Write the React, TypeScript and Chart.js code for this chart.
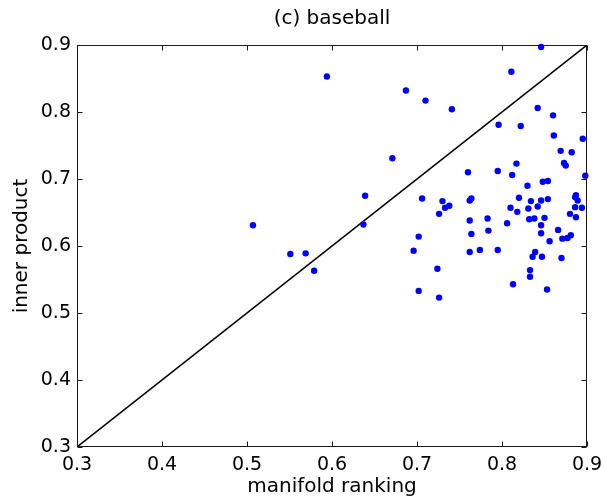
import React, { useEffect, useRef } from 'react';
import { Chart, registerables } from 'chart.js';

Chart.register(...registerables);

const manifoldRanking = [
  0.594, 0.687, 0.710, 0.671, 0.639, 0.706, 0.726, 0.507, 0.637, 0.702,
  0.551, 0.569, 0.696, 0.579, 0.724, 0.702, 0.726, 0.846, 0.811, 0.741,
  0.842, 0.860, 0.796, 0.822, 0.861, 0.895, 0.869, 0.882, 0.817, 0.873,
  0.875, 0.760, 0.795, 0.812, 0.898, 0.830, 0.848, 0.854, 0.887, 0.886,
  0.889, 0.820, 0.834, 0.846, 0.854, 0.730, 0.762, 0.764, 0.810, 0.831,
  0.842, 0.733, 0.738, 0.818, 0.886, 0.894, 0.880, 0.887, 0.832, 0.838,
  0.850, 0.762, 0.783, 0.806, 0.846, 0.784, 0.764, 0.846, 0.866, 0.871,
  0.877, 0.881, 0.856, 0.762, 0.774, 0.795, 0.839, 0.836, 0.847, 0.870,
  0.833, 0.833, 0.813, 0.853,
];

const innerProduct = [
  0.853, 0.832, 0.817, 0.731, 0.675, 0.671, 0.648, 0.631, 0.632, 0.614,
  0.588, 0.589, 0.593, 0.563, 0.566, 0.533, 0.523, 0.897, 0.860, 0.804,
  0.806, 0.795, 0.781, 0.779, 0.765, 0.760, 0.742, 0.740, 0.723, 0.724,
  0.720, 0.710, 0.712, 0.706, 0.705, 0.690, 0.696, 0.697, 0.676, 0.673,
  0.668, 0.672, 0.667, 0.668, 0.670, 0.667, 0.668, 0.671, 0.657, 0.656,
  0.659, 0.657, 0.660, 0.651, 0.658, 0.657, 0.648, 0.643, 0.640, 0.641,
  0.642, 0.638, 0.641, 0.634, 0.631, 0.623, 0.618, 0.619, 0.624, 0.611,
  0.612, 0.616, 0.607, 0.591, 0.594, 0.594, 0.591, 0.584, 0.584, 0.582,
  0.564, 0.554, 0.543, 0.535,
];

const diagonalLine = [0.3, 0.9];
const tickValues = [0.3, 0.4, 0.5, 0.6, 0.7, 0.8, 0.9];
const tickLabels = ['0.3', '0.4', '0.5', '0.6', '0.7', '0.8', '0.9'];

const FONT = '"DejaVu Sans", "Liberation Sans", Arial, sans-serif';

const boxPlugin = {
  id: 'matlabBox',
  afterDatasetsDraw(chart: any) {
    const { ctx, chartArea, scales } = chart;
    const left = Math.round(chartArea.left) + 0.5;
    const right = Math.round(chartArea.right) - 0.5;
    const top = Math.round(chartArea.top) + 0.5;
    const bottom = Math.round(chartArea.bottom) - 0.5;
    ctx.save();
    ctx.strokeStyle = '#1a1a1a';
    ctx.lineWidth = 1;
    ctx.strokeRect(left, top, right - left, bottom - top);
    const len = 5;
    ctx.beginPath();
    tickValues.forEach((v) => {
      const px = Math.round(scales.x.getPixelForValue(v)) + 0.5;
      ctx.moveTo(px, bottom);
      ctx.lineTo(px, bottom - len);
      ctx.moveTo(px, top);
      ctx.lineTo(px, top + len);
      const py = Math.round(scales.y.getPixelForValue(v)) + 0.5;
      ctx.moveTo(left, py);
      ctx.lineTo(left + len, py);
      ctx.moveTo(right, py);
      ctx.lineTo(right - len, py);
    });
    ctx.stroke();
    ctx.restore();
  },
};

export default function App() {
  const canvasRef = useRef<HTMLCanvasElement | null>(null);

  useEffect(() => {
    document.body.style.margin = '0';
    document.body.style.overflow = 'hidden';
    const canvas = canvasRef.current;
    if (!canvas) return;

    const points = manifoldRanking.map((x, i) => ({ x, y: innerProduct[i] }));
    const diag = diagonalLine.map((v) => ({ x: v, y: v }));

    const tickCallback = (value: any) => {
      const idx = tickValues.findIndex((t) => Math.abs(t - Number(value)) < 1e-6);
      return idx >= 0 ? tickLabels[idx] : '';
    };

    const chart = new Chart(canvas, {
      type: 'scatter',
      data: {
        datasets: [
          {
            label: 'points',
            data: points,
            backgroundColor: '#0000ff',
            borderColor: '#0000ff',
            pointRadius: 3.2,
            pointHoverRadius: 3.2,
            borderWidth: 0,
            clip: false as any,
          },
          {
            label: 'diagonal',
            type: 'line' as any,
            data: diag,
            borderColor: '#000000',
            borderWidth: 1.5,
            pointRadius: 0,
            showLine: true,
            fill: false,
          },
        ],
      },
      options: {
        animation: false,
        responsive: true,
        maintainAspectRatio: false,
        layout: { padding: { left: 0, right: 17, top: 0, bottom: 0 } },
        plugins: {
          legend: { display: false },
          tooltip: { enabled: false },
          title: {
            display: true,
            fullSize: false,
            text: '(c) baseball',
            color: '#000',
            font: { family: FONT, size: 20, weight: 'normal' as any },
            padding: { top: 7, bottom: 14 },
          },
        },
        scales: {
          x: {
            type: 'linear',
            min: 0.3,
            max: 0.9,
            afterFit: (scale: any) => {
              scale.height = 55;
              scale.paddingLeft = 0;
              scale.paddingRight = 0;
            },
            afterBuildTicks: (scale: any) => {
              scale.ticks = tickValues.map((v) => ({ value: v }));
            },
            ticks: {
              callback: tickCallback,
              color: '#000',
              font: { family: FONT, size: 19 },
              padding: 7,
              maxRotation: 0,
              autoSkip: false,
            },
            grid: { display: false, drawTicks: false },
            border: { display: false },
            title: {
              display: true,
              text: 'manifold ranking',
              color: '#000',
              font: { family: FONT, size: 20 },
              padding: { top: 0, bottom: 3 },
            },
          },
          y: {
            type: 'linear',
            min: 0.3,
            max: 0.9,
            afterFit: (scale: any) => {
              scale.width = 77;
              scale.paddingTop = 0;
              scale.paddingBottom = 0;
            },
            afterBuildTicks: (scale: any) => {
              scale.ticks = tickValues.map((v) => ({ value: v }));
            },
            ticks: {
              callback: tickCallback,
              color: '#000',
              font: { family: FONT, size: 19 },
              padding: 6,
              autoSkip: false,
            },
            grid: { display: false, drawTicks: false },
            border: { display: false },
            title: {
              display: true,
              text: 'inner product',
              color: '#000',
              font: { family: FONT, size: 20 },
              padding: { top: 10, bottom: 0 },
            },
          },
        },
      },
      plugins: [boxPlugin],
    });

    return () => {
      chart.destroy();
    };
  }, []);

  return (
    <div style={{ width: 604, height: 502, position: 'relative', background: '#fff' }}>
      <canvas ref={canvasRef} />
    </div>
  );
}
